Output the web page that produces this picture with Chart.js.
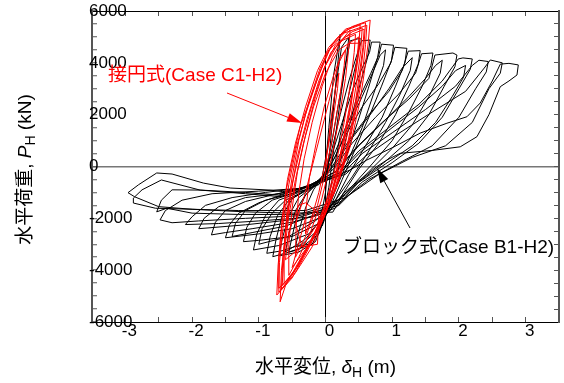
<!DOCTYPE html>
<html><head><meta charset="utf-8">
<script src="https://cdn.jsdelivr.net/npm/chart.js@4"></script>
<style>html,body{margin:0;padding:0;background:#fff;}canvas{display:block;}</style>
</head><body>
<canvas id="c" width="564" height="383"></canvas>
<script>
// ---- tick labels ----
const xLabelValues = [-3, -2, -1, 0, 1, 2, 3];
const yLabelValues = [-6000, -4000, -2000, 0, 2000, 4000, 6000];

// ---- Block model (Case B1-H2): [displacement m, load kN] ----
const blockC1 = [[0,0],[0.05,1500],[0.12,3500],[0.22,5100],[0.2,4400],[0.14,2800],[0.07,800],[0.0,-1000],[-0.1,-2400],[-0.25,-3000],[-0.45,-3100],[-0.4,-2500],[-0.3,-1600],[-0.18,-900]];
const blockC2 = [[-0.05,-400],[0.05,1000],[0.15,3000],[0.24,4600],[0.35,5000],[0.32,4300],[0.24,2900],[0.14,1000],[0.05,-800],[-0.05,-2200],[-0.2,-3000],[-0.55,-3300],[-0.5,-2700],[-0.42,-1800],[-0.3,-1100],[-0.15,-700]];
const blockC3 = [[0.0,-200],[0.1,1000],[0.2,2500],[0.3,3900],[0.37,4850],[0.52,4950],[0.48,4200],[0.36,2900],[0.22,1200],[0.1,-500],[0.0,-1900],[-0.15,-2900],[-0.4,-3300],[-0.7,-3450],[-0.65,-2800],[-0.55,-1900],[-0.4,-1200],[-0.2,-800]];
const blockC4 = [[0.0,-300],[0.1,700],[0.22,2000],[0.35,3300],[0.47,4300],[0.54,4850],[0.67,4880],[0.63,4200],[0.5,3000],[0.35,1500],[0.2,0],[0.05,-1500],[-0.1,-2600],[-0.4,-3200],[-0.79,-3480],[-0.74,-2800],[-0.65,-1900],[-0.5,-1250],[-0.3,-900]];
const blockC5 = [[-0.05,-450],[0.1,500],[0.25,1700],[0.4,2900],[0.55,3800],[0.66,4400],[0.69,4800],[0.82,4800],[0.78,4200],[0.64,3000],[0.48,1700],[0.3,300],[0.12,-1100],[-0.05,-2300],[-0.35,-3000],[-0.65,-3250],[-0.88,-3350],[-0.83,-2700],[-0.72,-1900],[-0.55,-1300],[-0.3,-950]];
const blockC6 = [[-0.05,-500],[0.1,300],[0.3,1500],[0.5,2600],[0.68,3600],[0.8,4300],[0.84,4720],[1.02,4680],[0.99,4100],[0.84,3100],[0.65,1900],[0.45,700],[0.25,-500],[0.05,-1700],[-0.25,-2600],[-0.7,-3050],[-1.08,-3220],[-1.03,-2600],[-0.9,-1900],[-0.7,-1300],[-0.4,-1000]];
const blockC6b = [[-0.1,-700],[0.15,400],[0.35,1600],[0.55,2700],[0.72,3700],[0.82,4300],[0.9,4500],[0.87,3900],[0.72,2800],[0.55,1500],[0.35,300],[0.15,-900],[-0.05,-2000],[-0.3,-2800],[-0.6,-3300],[-0.55,-2600],[-0.45,-1700],[-0.3,-1100]];
const blockC7 = [[-0.1,-600],[0.1,150],[0.3,1200],[0.55,2300],[0.8,3200],[0.98,4000],[1.04,4600],[1.22,4560],[1.19,4000],[1.05,3100],[0.85,1900],[0.6,800],[0.35,-300],[0.15,-1300],[-0.1,-2200],[-0.5,-2700],[-1.0,-2850],[-1.23,-2900],[-1.18,-2350],[-1.05,-1800],[-0.8,-1300],[-0.5,-1050]];
const blockC8 = [[-0.15,-650],[0.1,0],[0.35,1000],[0.65,2000],[0.95,2900],[1.15,3700],[1.24,4450],[1.42,4470],[1.39,3950],[1.25,3100],[1.05,2000],[0.8,900],[0.5,-100],[0.25,-1100],[0.0,-1900],[-0.5,-2400],[-1.0,-2600],[-1.5,-2750],[-1.44,-2250],[-1.3,-1800],[-1.0,-1400],[-0.6,-1050]];
const blockC8b = [[-0.1,-600],[0.15,100],[0.4,1100],[0.7,2100],[0.95,3000],[1.15,3800],[1.3,4200],[1.27,3700],[1.12,2800],[0.9,1700],[0.65,600],[0.4,-400],[0.15,-1300],[-0.15,-2100],[-0.55,-2700],[-1.0,-3000],[-0.95,-2400],[-0.8,-1800],[-0.6,-1300],[-0.35,-1000]];
const blockC9 = [[-0.2,-700],[0.12,-100],[0.4,900],[0.75,1900],[1.1,2800],[1.35,3600],[1.44,4350],[1.61,4380],[1.58,3900],[1.45,3100],[1.25,2100],[1.0,1000],[0.7,100],[0.35,-900],[0.05,-1750],[-0.5,-2150],[-1.1,-2400],[-1.5,-2550],[-1.71,-2640],[-1.65,-2150],[-1.5,-1700],[-1.2,-1350],[-0.8,-1100]];
const blockC10 = [[-0.3,-800],[0.15,-200],[0.45,700],[0.85,1700],[1.25,2600],[1.55,3400],[1.64,4300],[1.91,4380],[1.97,4300],[1.94,3850],[1.78,3100],[1.55,2000],[1.25,1000],[0.9,200],[0.5,-600],[0.15,-1600],[-0.2,-1950],[-1.0,-2100],[-1.6,-2200],[-2.1,-2240],[-2.0,-1940],[-1.8,-1500],[-1.4,-1200],[-0.9,-1000]];
const blockC10b = [[-0.25,-800],[0.18,-150],[0.5,800],[0.9,1800],[1.25,2700],[1.5,3400],[1.65,3900],[1.75,4100],[1.72,3600],[1.55,2700],[1.3,1600],[1.0,700],[0.65,-200],[0.3,-1100],[-0.1,-1800],[-0.6,-2300],[-1.1,-2550],[-1.4,-2700],[-1.35,-2200],[-1.2,-1700],[-0.9,-1300],[-0.5,-1050]];
const blockC11 = [[-0.35,-850],[0.2,-250],[0.5,600],[0.95,1500],[1.4,2400],[1.75,3300],[1.99,4150],[2.06,4190],[2.2,4150],[2.17,3750],[2.0,3000],[1.75,1900],[1.4,900],[1.0,150],[0.55,-600],[0.2,-1500],[-0.4,-1900],[-1.2,-2000],[-1.9,-2100],[-2.3,-2170],[-2.48,-2060],[-2.4,-1700],[-2.15,-1300],[-1.7,-1050],[-1.0,-950]];
const blockC12 = [[-0.4,-850],[0.25,-300],[0.55,500],[1.0,1300],[1.5,2200],[1.95,3100],[2.2,3900],[2.3,4100],[2.44,4050],[2.41,3650],[2.25,3000],[2.0,1900],[1.6,800],[1.15,200],[0.65,-500],[0.2,-1400],[-0.4,-1850],[-1.3,-1850],[-2.0,-1800],[-2.38,-1610],[-2.53,-1750],[-2.46,-1300],[-2.3,-900],[-1.88,-910],[-1.2,-1000],[-0.7,-1100]];
const blockC12b = [[-0.35,-850],[0.22,-250],[0.52,550],[0.95,1400],[1.4,2300],[1.75,3100],[1.95,3700],[2.1,3900],[2.07,3450],[1.9,2700],[1.65,1700],[1.3,800],[0.9,100],[0.45,-700],[0.05,-1600],[-0.5,-2050],[-1.2,-2250],[-1.9,-2400],[-1.82,-2000],[-1.6,-1550],[-1.2,-1200],[-0.7,-1050]];
const blockC13 = [[-0.45,-900],[0.3,-300],[0.6,400],[1.05,1200],[1.6,2100],[2.1,2900],[2.38,3800],[2.47,4110],[2.65,4000],[2.62,3600],[2.45,3000],[2.2,1700],[1.8,800],[1.3,350],[0.8,-300],[0.3,-1200],[-0.3,-1700],[-1.3,-1700],[-2.0,-1650],[-2.55,-1610],[-2.88,-1410],[-2.88,-1220],[-2.75,-900],[-2.46,-520],[-1.88,-910],[-1.2,-1050],[-0.68,-1160]];
const blockC14 = [[-0.3,-900],[0.37,-130],[0.62,250],[1.02,750],[1.42,1290],[1.82,1670],[2.12,1920],[2.32,2450],[2.5,3300],[2.62,3950],[2.75,3980],[2.89,3920],[2.87,3530],[2.75,3300],[2.62,3080],[2.45,2000],[2.27,1150],[2.02,760],[1.6,620],[1.12,510],[0.92,250],[0.77,0],[0.5,-550],[0.27,-1030],[0.11,-1760],[-0.5,-1800],[-1.2,-1750],[-2.0,-1650],[-2.5,-1550],[-2.86,-1170],[-2.96,-1010],[-2.8,-700],[-2.53,-250],[-2.3,-290],[-1.83,-640],[-1.43,-830],[-0.83,-910],[-0.64,-970],[-0.3,-800],[0.0,-400]];

// ---- Tangent-circle model (Case C1-H2) ----
const circleR1 = [[0,0],[0.08,1800],[0.15,3000],[0.2,3600],[0.18,3000],[0.1,1600],[0.0,200],[-0.1,-1000],[-0.2,-1900],[-0.3,-2600]];
const circleR2 = [[-0.29,-1600],[-0.24,-400],[-0.14,900],[-0.02,2300],[0.12,3500],[0.22,4200],[0.3,4500],[0.28,3900],[0.22,2800],[0.12,1300],[0.0,-200],[-0.12,-1500],[-0.28,-2600],[-0.45,-3500]];
const circleR3 = [[-0.44,-2300],[-0.4,-1000],[-0.32,300],[-0.2,1700],[-0.05,3100],[0.1,4200],[0.25,4900],[0.37,5270],[0.35,4600],[0.3,3400],[0.2,1800],[0.08,200],[-0.06,-1300],[-0.22,-2500],[-0.4,-3500],[-0.55,-4200]];
const circleR4 = [[-0.55,-3000],[-0.5,-1600],[-0.42,-200],[-0.3,1200],[-0.15,2700],[0.0,3900],[0.2,4800],[0.45,5100],[0.43,4400],[0.38,3300],[0.28,1700],[0.15,0],[0.0,-1500],[-0.18,-2700],[-0.4,-3800],[-0.62,-4500]];
const circleR5 = [[-0.62,-3300],[-0.58,-1800],[-0.5,-400],[-0.4,1000],[-0.25,2500],[-0.08,3800],[0.1,4700],[0.3,5250],[0.52,5460],[0.5,4700],[0.45,3600],[0.38,2300],[0.26,700],[0.1,-900],[-0.08,-2100],[-0.3,-3300],[-0.5,-4200],[-0.7,-4700]];
const circleR6 = [[-0.7,-3500],[-0.65,-2000],[-0.57,-500],[-0.45,900],[-0.3,2300],[-0.12,3700],[0.05,4600],[0.3,5300],[0.6,5550],[0.58,4800],[0.52,3500],[0.45,2200],[0.32,600],[0.15,-900],[-0.05,-2100],[-0.28,-3300],[-0.5,-4300],[-0.73,-4960]];
const circleR7 = [[-0.71,-3800],[-0.66,-2400],[-0.58,-800],[-0.48,400],[-0.38,1540],[-0.18,2950],[0.02,4380],[0.17,4950],[0.4,5400],[0.67,5650],[0.64,4760],[0.58,3600],[0.52,2570],[0.37,770],[0.17,-780],[-0.04,-1940],[-0.25,-3000],[-0.45,-3900],[-0.6,-4600],[-0.68,-5220]];
const circleR8 = [[-0.66,-4000],[-0.6,-2600],[-0.52,-1000],[-0.42,400],[-0.28,1800],[-0.1,3300],[0.08,4400],[0.3,5000],[0.58,5300],[0.56,4600],[0.5,3400],[0.42,2000],[0.3,500],[0.12,-1000],[-0.08,-2200],[-0.3,-3300],[-0.48,-4100],[-0.65,-4600]];
const circleR9 = [[-0.62,-3400],[-0.55,-1900],[-0.45,-500],[-0.33,900],[-0.18,2300],[0.0,3600],[0.2,4500],[0.5,5000],[0.48,4300],[0.42,3100],[0.33,1700],[0.2,200],[0.05,-1100],[-0.12,-2200],[-0.32,-3000],[-0.6,-3600],[-0.55,-2500],[-0.4,-1500]];
const circleR10 = [[-0.3,-1400],[-0.1,-1800],[-0.12,-3000],[-0.35,-3100],[-0.45,-2200],[-0.3,-1000],[-0.15,500],[0.05,2500],[0.2,4000],[0.35,4750],[0.52,4760],[0.45,3500],[0.3,1500],[0.15,-500]];
const circleR11 = [[0.0,-1800],[-0.2,-3100],[-0.45,-4100],[-0.7,-4850],[-0.69,-3700],[-0.63,-2200],[-0.55,-700],[-0.44,700],[-0.3,2000],[-0.12,3400],[0.06,4500],[0.28,5150],[0.62,5450],[0.6,4700],[0.55,3500],[0.47,2300],[0.34,700],[0.16,-800],[-0.03,-2000],[-0.26,-3100],[-0.46,-4000],[-0.66,-4750]];
const circleR12 = [[-0.64,-3600],[-0.58,-2000],[-0.49,-600],[-0.36,900],[-0.2,2400],[-0.02,3800],[0.15,4700],[0.4,5200],[0.55,5350],[0.53,4500],[0.47,3300],[0.38,1900],[0.25,300],[0.08,-1200],[-0.1,-2300],[-0.3,-3200],[-0.5,-3900],[-0.3,-2000]];

const blockCycles = [blockC1,blockC2,blockC3,blockC4,blockC5,blockC6,blockC6b,blockC7,blockC8,blockC8b,blockC9,blockC10,blockC10b,blockC11,blockC12,blockC12b,blockC13,blockC14];
const circleCycles = [circleR1,circleR2,circleR3,circleR4,circleR5,circleR6,circleR7,circleR8,circleR9,circleR10,circleR11,circleR12];

// ---- annotations (data coordinates) ----
const circleLabel = {x: -3.26, y: 3490, text: '接円式(Case C1-H2)', color: '#ff0000'};
const circleArrow = {from: [-1.476, 2836], to: [-0.352, 1679], color: '#ff0000'};
const blockLabel = {x: 0.262, y: -3140, text: 'ブロック式(Case B1-H2)', color: '#000000'};
const blockArrow = {from: [1.267, -2373], to: [0.772, -58], color: '#000000'};

const FONT = "'Liberation Sans', Arial, 'Noto Sans CJK JP', sans-serif";
const toPoints = cycles => cycles.flat().map(p => ({x: p[0], y: p[1]}));

function drawRich(ctx, parts, cx, cy, rotate, size) {
  ctx.save();
  ctx.translate(cx, cy);
  if (rotate) ctx.rotate(-Math.PI / 2);
  const fontOf = p => (p.italic ? 'italic ' : '') + (p.sub ? Math.round(size * 0.72) : size) + 'px ' + FONT;
  let total = 0;
  const widths = parts.map(p => { ctx.font = fontOf(p); const w = ctx.measureText(p.t).width; total += w; return w; });
  let x = -total / 2;
  ctx.textBaseline = 'middle';
  ctx.textAlign = 'left';
  ctx.fillStyle = '#000';
  parts.forEach((p, i) => { ctx.font = fontOf(p); ctx.fillText(p.t, x, p.sub ? size * 0.28 : 0); x += widths[i]; });
  ctx.restore();
}

function drawArrow(ctx, x1, y1, x2, y2, color) {
  const ang = Math.atan2(y2 - y1, x2 - x1);
  const hl = 15, hw = 4.5;
  const bx = x2 - hl * Math.cos(ang), by = y2 - hl * Math.sin(ang);
  ctx.save();
  ctx.strokeStyle = color; ctx.fillStyle = color; ctx.lineWidth = 1;
  ctx.beginPath(); ctx.moveTo(x1, y1); ctx.lineTo(bx, by); ctx.stroke();
  ctx.beginPath();
  ctx.moveTo(x2, y2);
  ctx.lineTo(bx + hw * Math.sin(ang), by - hw * Math.cos(ang));
  ctx.lineTo(bx - hw * Math.sin(ang), by + hw * Math.cos(ang));
  ctx.closePath(); ctx.fill();
  ctx.restore();
}

const decor = {
  id: 'decor',
  afterDatasetsDraw(chart) {
    const ctx = chart.ctx, sx = chart.scales.x, sy = chart.scales.y, a = chart.chartArea;
    [circleLabel, blockLabel].forEach(l => {
      ctx.save();
      ctx.font = '19px ' + FONT; ctx.fillStyle = l.color; ctx.textBaseline = 'middle'; ctx.textAlign = 'left';
      ctx.fillText(l.text, sx.getPixelForValue(l.x), sy.getPixelForValue(l.y));
      ctx.restore();
    });
    [circleArrow, blockArrow].forEach(ar => drawArrow(ctx, sx.getPixelForValue(ar.from[0]), sy.getPixelForValue(ar.from[1]), sx.getPixelForValue(ar.to[0]), sy.getPixelForValue(ar.to[1]), ar.color));
    drawRich(ctx, [{t: '水平変位, '}, {t: 'δ', italic: true}, {t: 'H', sub: true}, {t: ' (m)'}], (a.left + a.right) / 2, 368, false, 19);
    drawRich(ctx, [{t: '水平荷重, '}, {t: 'P', italic: true}, {t: 'H', sub: true}, {t: ' (kN)'}], 26, (a.top + a.bottom) / 2 + 3, true, 19);
  }
};

const tickFont = {family: FONT, size: 17};

new Chart(document.getElementById('c'), {
  type: 'scatter',
  data: {
    datasets: [
      {label: '接円式(Case C1-H2)', data: toPoints(circleCycles), showLine: true, borderColor: '#ff0000', borderWidth: 1, pointRadius: 0, tension: 0, fill: false},
      {label: 'ブロック式(Case B1-H2)', data: toPoints(blockCycles), showLine: true, borderColor: '#000000', borderWidth: 1, pointRadius: 0, tension: 0, fill: false}
    ]
  },
  options: {
    responsive: false, animation: false, devicePixelRatio: 1,
    layout: {padding: 0},
    plugins: {legend: {display: false}, tooltip: {enabled: false}},
    scales: {
      x: {
        type: 'linear', axis: 'x', position: 'bottom', min: -3.5, max: 3.5,
        afterFit: s => { s.height = 61; },
        border: {display: true, color: '#000', width: 1},
        grid: {drawOnChartArea: true, color: c => (c.tick && c.tick.value === 0) ? '#000' : 'rgba(0,0,0,0)', lineWidth: 1, drawTicks: true, tickLength: -5, tickColor: '#555', tickWidth: 1},
        ticks: {stepSize: 0.5, maxTicksLimit: 100, autoSkip: false, maxRotation: 0, minRotation: 0, padding: 4, labelOffset: 4, color: '#000', font: tickFont,
          callback: v => xLabelValues.includes(v) ? String(v) : ''}
      },
      x2: {
        type: 'linear', axis: 'x', position: 'top', min: -3.5, max: 3.5,
        afterFit: s => { s.height = 11; },
        border: {display: true, color: '#000', width: 1},
        grid: {drawOnChartArea: false, drawTicks: true, tickLength: -5, tickColor: '#555', tickWidth: 1},
        ticks: {display: false, stepSize: 0.5, maxTicksLimit: 100, autoSkip: false}
      },
      y: {
        type: 'linear', axis: 'y', position: 'left', min: -6000, max: 6000,
        afterFit: s => { s.width = 92; },
        border: {display: true, color: '#555', width: 2},
        grid: {drawOnChartArea: true, color: c => (c.tick && c.tick.value === 0) ? '#777' : 'rgba(0,0,0,0)', lineWidth: 1.5, drawTicks: true, tickLength: -5, tickColor: '#555', tickWidth: 1},
        ticks: {stepSize: 500, maxTicksLimit: 100, autoSkip: false, mirror: true, padding: -3, color: '#000', font: tickFont,
          callback: v => yLabelValues.includes(v) ? String(v) : ''}
      },
      y2: {
        type: 'linear', axis: 'y', position: 'right', min: -6000, max: 6000,
        afterFit: s => { s.width = 5; },
        border: {display: true, color: '#555', width: 2},
        grid: {drawOnChartArea: false, drawTicks: true, tickLength: -5, tickColor: '#555', tickWidth: 1},
        ticks: {display: false, stepSize: 500, maxTicksLimit: 100, autoSkip: false}
      }
    }
  },
  plugins: [decor]
});
</script>
</body></html>
